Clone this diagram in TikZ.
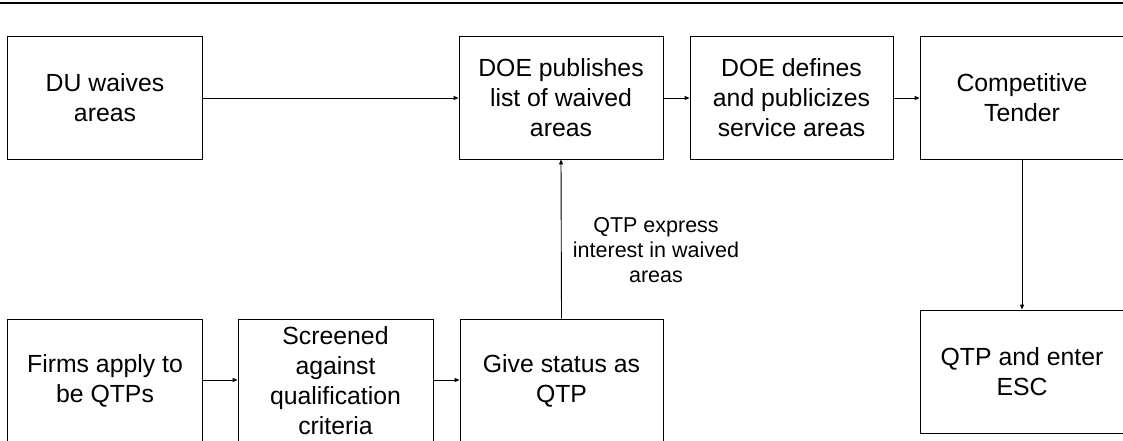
\documentclass[tikz,border=0pt]{standalone}
\usepackage{fontspec}
\setmainfont{Liberation Sans}
\usetikzlibrary{arrows.meta}
\begin{document}
\begin{tikzpicture}[x=1pt,y=-1pt,
  box/.style={draw=black,line width=0.9pt,inner sep=0pt,align=center,
    minimum height=123pt,font=\fontsize{24.8}{30}\selectfont},
  flow/.style={draw=black,line width=0.9pt,-{Triangle[length=5pt,width=4pt]}},
  note/.style={align=center,inner sep=0pt,font=\fontsize{21.5}{25}\selectfont}]
\useasboundingbox (0,0) rectangle (1123,441);
\clip (0,0) rectangle (1123,441);
% rule across the top of the page
\draw[line width=2.2pt] (0,3) -- (1123,3);
% upper row
\node[box,minimum width=195pt] (du)  at (105,97.5)   {DU waives\\areas};
\node[box,minimum width=204pt] (pub) at (561,97.5)   {DOE publishes\\list of waived\\areas};
\node[box,minimum width=203pt] (def) at (791.5,97.5) {DOE defines\\and publicizes\\service areas};
\node[box,minimum width=204pt] (ct)  at (1022,97.5)  {Competitive\\Tender};
% lower row
\node[box,minimum width=195pt] (firms) at (105,380.5)   {Firms apply to\\be QTPs};
\node[box,minimum width=195pt] (scr)   at (335.5,380.5) {Screened\\against\\qualification\\criteria};
\node[box,minimum width=203pt] (give)  at (561.5,380.5) {Give status as\\QTP};
\node[box,minimum width=204pt] (qtp)   at (1022,371.5)  {QTP and enter\\ESC};
% connectors
\draw[flow] (du.east |- 0,98) -- (pub.west |- 0,98);
\draw[flow] (pub.east |- 0,98) -- (def.west |- 0,98);
\draw[flow] (def.east |- 0,98) -- (ct.west |- 0,98);
\draw[flow] (firms.east |- 0,380) -- (scr.west |- 0,380);
\draw[flow] (scr.east |- 0,380) -- (give.west |- 0,380);
\draw[flow] (give.north) -- (pub.south);
\draw[flow] (ct.south) -- (qtp.north);
% label beside the upward connector
\node[note] (lbl) at (656,250) {QTP express\\interest in waived\\areas};
\end{tikzpicture}
\end{document}
